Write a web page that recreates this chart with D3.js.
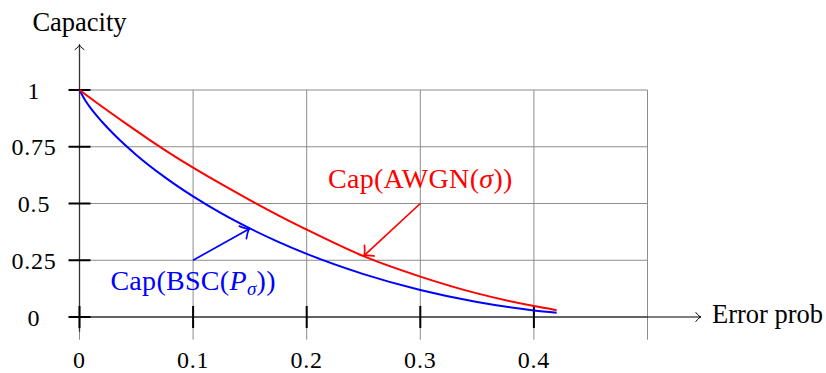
<!DOCTYPE html>
<html>
<head>
<meta charset="utf-8">
<script src="https://cdn.jsdelivr.net/npm/d3@7"></script>
<style>
  body { margin: 0; background: #fff; }
  svg { display: block; }
  text { font-family: "Liberation Serif", "Times New Roman", serif; fill: #000; }
</style>
</head>
<body>
<div id="chart"></div>
<script>
// values
var bscProb = [0, 0.005, 0.01, 0.02, 0.03, 0.05, 0.075, 0.1, 0.125, 0.15, 0.175, 0.2, 0.25, 0.3, 0.35, 0.4, 0.42];
var bscCap  = [1, 0.955, 0.919, 0.859, 0.806, 0.714, 0.616, 0.531, 0.456, 0.39, 0.331, 0.278, 0.189, 0.119, 0.066, 0.029, 0.019];

var awgnProb = [0, 0.02, 0.04, 0.06, 0.08, 0.1, 0.125, 0.15, 0.175, 0.2, 0.25, 0.3, 0.35, 0.4, 0.42];
var awgnCap  = [1, 0.926, 0.855, 0.786, 0.72, 0.658, 0.585, 0.515, 0.448, 0.385, 0.268, 0.178, 0.104, 0.048, 0.03];

var xTicks = [0, 0.1, 0.2, 0.3, 0.4];
var xTickLabels = ["0", "0.1", "0.2", "0.3", "0.4"];
var yTicks = [0, 0.25, 0.5, 0.75, 1];
var yTickLabels = ["0", "0.25", "0.5", "0.75", "1"];
var xGrid = [0, 0.1, 0.2, 0.3, 0.4, 0.5];

// annotation arrows: [from, to] in data units
var bscArrow = [[0.1, 0.25], [0.15, 0.39]];
var awgnArrow = [[0.3, 0.5], [0.25, 0.268]];

var width = 826, height = 373;

var x = d3.scaleLinear().domain([0, 0.5]).range([79.5, 647.5]);
var y = d3.scaleLinear().domain([0, 1]).range([317, 90]);

var svg = d3.select("#chart").append("svg")
  .attr("width", width)
  .attr("height", height);

var defs = svg.append("defs");

function arrowMarker(id, color, size, sw) {
  defs.append("marker")
    .attr("id", id)
    .attr("markerUnits", "userSpaceOnUse")
    .attr("viewBox", "-12 -12 24 24")
    .attr("markerWidth", 24)
    .attr("markerHeight", 24)
    .attr("refX", 0)
    .attr("refY", 0)
    .attr("orient", "auto")
    .append("path")
    .attr("d", "M" + (-size) + "," + (-size * 0.9) + " Q" + (-size * 0.3) + ",0 0,0 Q" + (-size * 0.3) + ",0 " + (-size) + "," + (size * 0.9))
    .attr("fill", "none")
    .attr("stroke", color)
    .attr("stroke-width", sw)
    .attr("stroke-linecap", "round");
}
arrowMarker("arrAxis", "#000", 5, 1);
arrowMarker("arrBlue", "#0000ff", 8, 1.7);
arrowMarker("arrRed", "#ff0000", 8, 1.7);

// grid
var grid = svg.append("g").attr("stroke", "#8c8c8c").attr("stroke-width", 1);
grid.selectAll(".gx").data(xGrid).enter().append("line")
  .attr("x1", function(d) { return x(d); })
  .attr("x2", function(d) { return x(d); })
  .attr("y1", y(-0.1))
  .attr("y2", y(1));
grid.selectAll(".gy").data(yTicks).enter().append("line")
  .attr("x1", x(0))
  .attr("x2", x(0.5))
  .attr("y1", function(d) { return y(d); })
  .attr("y2", function(d) { return y(d); });

// axes
svg.append("line")
  .attr("x1", x(0)).attr("x2", x(0.547))
  .attr("y1", y(0)).attr("y2", y(0))
  .attr("stroke", "#000").attr("stroke-width", 1.1)
  .attr("marker-end", "url(#arrAxis)");
svg.append("line")
  .attr("x1", x(0)).attr("x2", x(0))
  .attr("y1", y(-0.065)).attr("y2", y(1.2))
  .attr("stroke", "#333").attr("stroke-width", 1.3)
  .attr("marker-end", "url(#arrAxis)");

// tick marks crossing the axes
svg.selectAll(".xt").data(xTicks).enter().append("line")
  .attr("x1", function(d) { return x(d); })
  .attr("x2", function(d) { return x(d); })
  .attr("y1", y(0) - 11)
  .attr("y2", y(0) + 11)
  .attr("stroke", "#000").attr("stroke-width", 2);
svg.selectAll(".yt").data(yTicks).enter().append("line")
  .attr("x1", x(0) - 11)
  .attr("x2", x(0) + 11)
  .attr("y1", function(d) { return y(d); })
  .attr("y2", function(d) { return y(d); })
  .attr("stroke", "#000").attr("stroke-width", 2);

// tick labels
svg.selectAll(".xl").data(xTicks).enter().append("text")
  .attr("x", function(d) { return x(d); })
  .attr("y", 367.5)
  .attr("text-anchor", "middle")
  .attr("font-size", 24)
  .attr("letter-spacing", 0.8)
  .text(function(d, i) { return xTickLabels[i]; });
svg.selectAll(".yl").data(yTicks).enter().append("text")
  .attr("x", 34)
  .attr("y", function(d) { return y(d) + 8.5; })
  .attr("text-anchor", "middle")
  .attr("font-size", 24)
  .attr("letter-spacing", 0.8)
  .text(function(d, i) { return yTickLabels[i]; });

// axis titles
svg.append("text")
  .attr("x", x(0)).attr("y", 30.5)
  .attr("text-anchor", "middle")
  .attr("font-size", 26.5)
  .text("Capacity");
svg.append("text")
  .attr("x", 712).attr("y", 323)
  .attr("font-size", 26.5)
  .text("Error prob");

// curves
var line = d3.line()
  .x(function(d) { return x(d[0]); })
  .y(function(d) { return y(d[1]); })
  .curve(d3.curveMonotoneX);

svg.append("path")
  .datum(d3.zip(bscProb, bscCap))
  .attr("d", line)
  .attr("fill", "none")
  .attr("stroke", "#0000ff")
  .attr("stroke-width", 2);

svg.append("path")
  .datum(d3.zip(awgnProb, awgnCap))
  .attr("d", line)
  .attr("fill", "none")
  .attr("stroke", "#ff0000")
  .attr("stroke-width", 2);

// annotation arrows
svg.append("line")
  .attr("x1", x(bscArrow[0][0])).attr("y1", y(bscArrow[0][1]))
  .attr("x2", x(bscArrow[1][0])).attr("y2", y(bscArrow[1][1]))
  .attr("stroke", "#0000ff").attr("stroke-width", 1.7)
  .attr("marker-end", "url(#arrBlue)");
svg.append("line")
  .attr("x1", x(awgnArrow[0][0])).attr("y1", y(awgnArrow[0][1]))
  .attr("x2", x(awgnArrow[1][0])).attr("y2", y(awgnArrow[1][1]))
  .attr("stroke", "#ff0000").attr("stroke-width", 1.7)
  .attr("marker-end", "url(#arrRed)");

// curve labels
var redLabel = svg.append("text")
  .attr("x", x(0.3)).attr("y", 188)
  .attr("text-anchor", "middle")
  .attr("font-size", 28)
  .attr("letter-spacing", 0.3)
  .style("fill", "#ff0000");
redLabel.append("tspan").text("Cap(AWGN(");
redLabel.append("tspan").attr("font-style", "italic").text("σ");
redLabel.append("tspan").text("))");

var blueLabel = svg.append("text")
  .attr("x", x(0.1)).attr("y", 290)
  .attr("text-anchor", "middle")
  .attr("font-size", 28)
  .attr("letter-spacing", 0.3)
  .style("fill", "#0000ff");
blueLabel.append("tspan").text("Cap(BSC(");
blueLabel.append("tspan").attr("font-style", "italic").text("P");
blueLabel.append("tspan").attr("font-style", "italic").attr("font-size", 19).attr("dy", 5).text("σ");
blueLabel.append("tspan").attr("dy", -5).text("))");
</script>
</body>
</html>
